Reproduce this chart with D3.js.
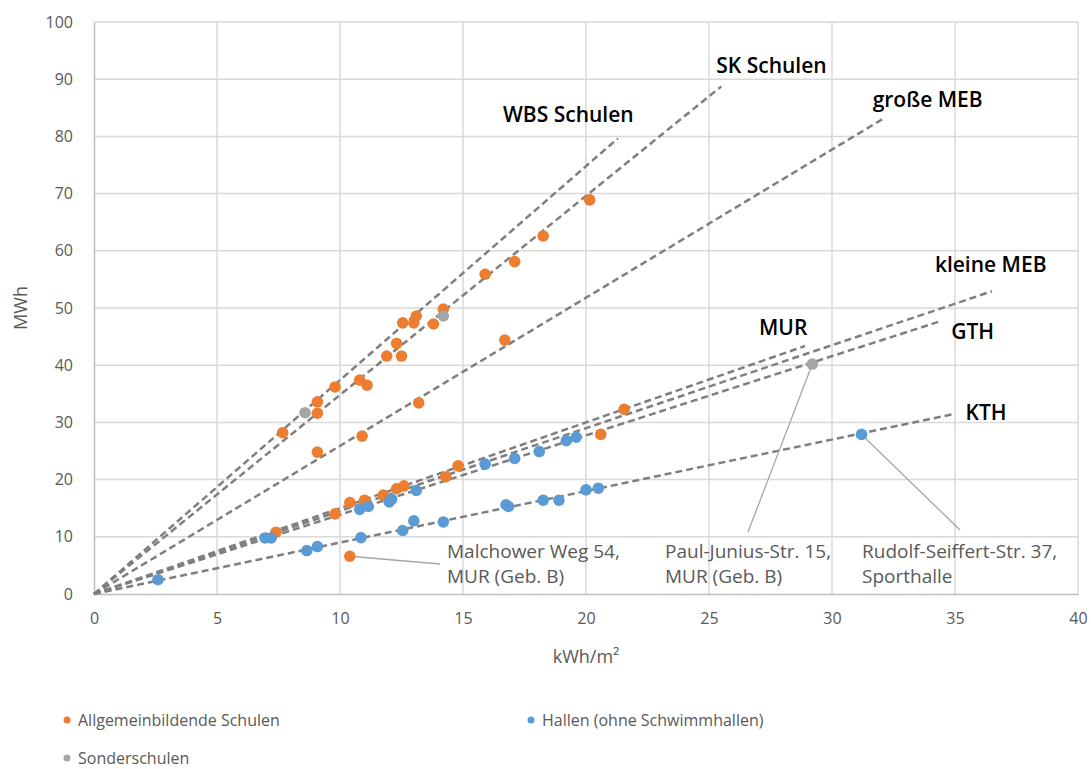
<!DOCTYPE html>
<html>
<head>
<meta charset="utf-8">
<script src="https://cdn.jsdelivr.net/npm/d3@7/dist/d3.min.js"></script>
<style>
  html, body { margin: 0; padding: 0; background: #fff; }
  svg { display: block; }
  text { font-family: "Open Sans", "Noto Sans", sans-serif; }
</style>
</head>
<body>
<svg id="chart" width="1091" height="769"></svg>
<script>
// Allgemeinbildende Schulen (kWh/m², MWh)
const schulenX = [14.2, 13.1, 12.55, 13.0, 13.8, 12.3, 11.9, 12.5, 10.8, 11.1, 9.8, 9.08, 9.08, 7.67, 13.2, 10.9, 9.08, 14.8, 14.3, 12.6, 12.3, 11.76, 11.0, 10.4, 9.8, 7.4, 10.4, 20.15, 18.26, 17.1, 15.9, 16.7, 21.55, 20.6];
const schulenY = [49.8, 48.6, 47.4, 47.4, 47.2, 43.8, 41.6, 41.6, 37.4, 36.5, 36.2, 33.6, 31.6, 28.2, 33.4, 27.6, 24.8, 22.4, 20.5, 18.9, 18.4, 17.3, 16.4, 16.0, 14.0, 10.8, 6.6, 68.9, 62.6, 58.1, 55.9, 44.4, 32.3, 27.9];

// Hallen (ohne Schwimmhallen)
const hallenX = [2.6, 6.95, 7.2, 8.65, 9.08, 10.85, 12.55, 13.0, 14.2, 10.8, 11.15, 12.0, 12.1, 13.1, 15.9, 17.1, 18.1, 19.2, 19.6, 16.85, 16.75, 18.26, 18.9, 20.0, 20.5, 31.2];
const hallenY = [2.5, 9.8, 9.8, 7.6, 8.3, 9.85, 11.1, 12.8, 12.6, 14.8, 15.3, 16.1, 16.6, 18.1, 22.7, 23.7, 24.9, 26.8, 27.4, 15.3, 15.6, 16.4, 16.4, 18.2, 18.5, 27.9];

// Sonderschulen
const sonderX = [8.58, 14.2, 29.2];
const sonderY = [31.7, 48.6, 40.2];

// Trendlines through the origin: y = slope * x, drawn up to xEnd
const trendNames  = ["WBS Schulen", "SK Schulen", "große MEB", "kleine MEB", "GTH", "MUR", "KTH"];
const trendSlopes = [3.74, 3.48, 2.59, 1.45, 1.386, 1.50, 0.90];
const trendEnds   = [21.3, 25.5, 32.1, 36.5, 34.4, 28.9, 34.9];

// Axis ticks
const xTicks = [0, 5, 10, 15, 20, 25, 30, 35, 40];
const yTicks = [0, 10, 20, 30, 40, 50, 60, 70, 80, 90, 100];

// Callouts: series key, point index, text lines
const calloutSeries = ["schulen", "sonder", "hallen"];
const calloutIndex  = [26, 2, 25];
const calloutLines  = [["Malchower Weg 54,", "MUR (Geb. B)"],
                       ["Paul-Junius-Str. 15,", "MUR (Geb. B)"],
                       ["Rudolf-Seiffert-Str. 37,", "Sporthalle"]];

const legendNames = ["Allgemeinbildende Schulen", "Hallen (ohne Schwimmhallen)", "Sonderschulen"];

// ---- layout ----
const plot = { left: 94, right: 1078, top: 22, bottom: 594 };
const colors = { schulen: "#ED7D31", hallen: "#5B9BD5", sonder: "#A5A5A5" };

const svg = d3.select("#chart");
const x = d3.scaleLinear().domain([0, 40]).range([plot.left, plot.right]);
const y = d3.scaleLinear().domain([0, 100]).range([plot.bottom, plot.top]);

// grid
const grid = svg.append("g");
grid.selectAll("line.v").data(xTicks.slice(1)).join("line")
  .attr("x1", d => x(d)).attr("x2", d => x(d))
  .attr("y1", plot.top).attr("y2", plot.bottom)
  .attr("stroke", "#d9d9d9").attr("stroke-width", 1.5);
grid.selectAll("line.h").data(yTicks.slice(1)).join("line")
  .attr("x1", plot.left).attr("x2", plot.right)
  .attr("y1", d => y(d)).attr("y2", d => y(d))
  .attr("stroke", "#d9d9d9").attr("stroke-width", 1.5);

// axes
const xAxis = svg.append("g").attr("transform", `translate(0,${plot.bottom})`)
  .call(d3.axisBottom(x).tickValues(xTicks).tickSize(0).tickPadding(19));
const yAxis = svg.append("g").attr("transform", `translate(${plot.left},0)`)
  .call(d3.axisLeft(y).tickValues(yTicks).tickSize(0).tickPadding(21));
[xAxis, yAxis].forEach(a => {
  a.select(".domain").attr("stroke", "#bfbfbf").attr("stroke-width", 1.5);
  a.selectAll("text").attr("fill", "#595959").attr("font-size", 16)
    .attr("font-family", "'Open Sans', sans-serif");
});

// axis titles
svg.append("text").attr("x", x(20)).attr("y", 663).attr("text-anchor", "middle")
  .attr("fill", "#595959").attr("font-size", 18).text("kWh/m²");
svg.append("text").attr("transform", `translate(27,${y(50)}) rotate(-90)`)
  .attr("text-anchor", "middle").attr("fill", "#595959").attr("font-size", 18).text("MWh");

// trendlines
const trends = trendNames.map((n, i) => ({ name: n, slope: trendSlopes[i], end: trendEnds[i] }));
const line = d3.line().x(d => x(d[0])).y(d => y(d[1]));
svg.append("g").selectAll("path").data(trends).join("path")
  .attr("d", d => line([[0, 0], [d.end, d.slope * d.end]]))
  .attr("fill", "none").attr("stroke", "#7f7f7f").attr("stroke-width", 2.5)
  .attr("stroke-dasharray", "7,4");

// trendline labels: pixel offset from the line end
const trendLabelOffset = {
  "WBS Schulen": [-115, -16], "SK Schulen": [-5, -13], "große MEB": [-11, -11],
  "kleine MEB": [-57, -19], "GTH": [11, 18], "MUR": [-46, -11], "KTH": [13, 6]
};
svg.append("g").selectAll("text").data(trends).join("text")
  .attr("x", d => x(d.end) + trendLabelOffset[d.name][0])
  .attr("y", d => y(d.slope * d.end) + trendLabelOffset[d.name][1])
  .attr("fill", "#000").attr("font-size", 21).attr("font-weight", 600).text(d => d.name);

// points
const series = {
  schulen: schulenX.map((v, i) => [v, schulenY[i]]),
  hallen: hallenX.map((v, i) => [v, hallenY[i]]),
  sonder: sonderX.map((v, i) => [v, sonderY[i]])
};

// callout leaders and text (drawn beneath the points)
const calloutText = [[447, 558], [665, 558], [862, 558]];
const calloutLeaderEnd = [[440, 564], [748, 532], [960, 530]];
const callG = svg.append("g");
calloutSeries.forEach((s, i) => {
  const p = series[s][calloutIndex[i]];
  callG.append("line")
    .attr("x1", x(p[0])).attr("y1", y(p[1]))
    .attr("x2", calloutLeaderEnd[i][0]).attr("y2", calloutLeaderEnd[i][1])
    .attr("stroke", "#a6a6a6").attr("stroke-width", 1.3);
  callG.append("text").attr("fill", "#595959").attr("font-size", 19)
    .selectAll("tspan").data(calloutLines[i]).join("tspan")
    .attr("x", calloutText[i][0]).attr("y", (d, j) => calloutText[i][1] + j * 25)
    .text(d => d);
});

["schulen", "hallen", "sonder"].forEach(k => {
  svg.append("g").selectAll("circle").data(series[k]).join("circle")
    .attr("cx", d => x(d[0])).attr("cy", d => y(d[1])).attr("r", 5.8)
    .attr("fill", colors[k]);
});

// legend
const legendPos = [[67, 720], [531, 720], [67, 758]];
const legendKeys = ["schulen", "hallen", "sonder"];
const lg = svg.append("g");
legendNames.forEach((n, i) => {
  lg.append("circle").attr("cx", legendPos[i][0]).attr("cy", legendPos[i][1]).attr("r", 3.5)
    .attr("fill", colors[legendKeys[i]]);
  lg.append("text").attr("x", legendPos[i][0] + 11).attr("y", legendPos[i][1] + 5.5)
    .attr("fill", "#595959").attr("font-size", 16).text(n);
});
</script>
</body>
</html>
